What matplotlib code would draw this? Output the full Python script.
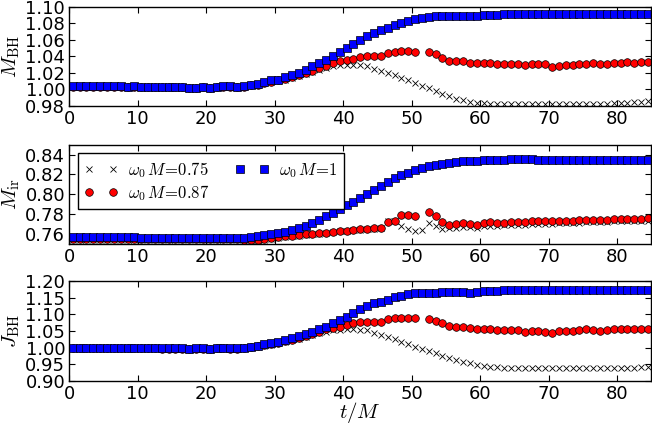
import numpy as np
import matplotlib
matplotlib.use("Agg")
import matplotlib.pyplot as plt

plt.rcParams['mathtext.fontset'] = 'cm'
plt.rcParams['font.family'] = 'DejaVu Sans'
plt.rcParams['xtick.direction'] = 'in'
plt.rcParams['ytick.direction'] = 'in'
plt.rcParams['xtick.top'] = True
plt.rcParams['ytick.right'] = True
plt.rcParams['xtick.major.size'] = 4.5
plt.rcParams['ytick.major.size'] = 4.5
plt.rcParams['axes.linewidth'] = 1.0

# sample times t/M
t = np.arange(0.5, 85, 1.0)
nan = np.nan

# ---- M_BH ----
mbh_075 = [1.003, 1.003, 1.003, 1.003, 1.003, 1.003, 1.003, 1.003, 1.002, 1.003,
           1.002, 1.002, 1.002, 1.002, 1.002, 1.002, 1.002, 1.001, 1.001, 1.002,
           1.001, 1.002, 1.003, 1.003, 1.002, 1.003, 1.005, 1.006, 1.008, 1.009,
           1.010, 1.012, 1.014, 1.016, 1.019, 1.021, 1.024, 1.026, 1.028, 1.0295,
           1.030, 1.030, 1.030, 1.0285, 1.025, 1.023, 1.020, 1.0175, 1.014, 1.0115,
           1.0075, 1.0045, 1.0015, 0.9985, 0.995, 0.992, 0.9885, 0.987, 0.985, 0.984,
           0.9835, 0.983, 0.983, 0.983, 0.983, 0.983, 0.983, 0.983, 0.983, 0.983,
           0.9825, 0.983, 0.983, 0.983, 0.983, 0.983, 0.983, 0.983, 0.983, 0.9835,
           0.984, 0.984, 0.985, 0.985, 0.986]
mbh_087 = [1.0035, 1.0035, 1.0035, 1.0035, 1.0035, 1.0035, 1.0035, 1.0035, 1.0025, 1.0035,
           1.0025, 1.0025, 1.0025, 1.0025, 1.0025, 1.0025, 1.0025, 1.0015, 1.0015, 1.0025,
           1.0015, 1.0025, 1.0035, 1.0035, 1.0025, 1.0035, 1.005, 1.006, 1.008, 1.009,
           1.011, 1.013, 1.015, 1.0175, 1.020, 1.023, 1.026, 1.0285, 1.032, 1.034,
           1.036, 1.037, 1.039, 1.040, 1.040, 1.040, 1.044, 1.045, 1.0465, 1.0465,
           1.046, nan, 1.045, 1.0425, 1.038, 1.0345, 1.034, 1.034, 1.032, 1.032,
           1.032, 1.032, 1.031, 1.031, 1.031, 1.031, 1.030, 1.031, 1.031, 1.031,
           1.027, 1.029, 1.030, 1.030, 1.031, 1.031, 1.032, 1.031, 1.031, 1.032,
           1.032, 1.033, 1.032, 1.033, 1.033]
mbh_1 = [1.004, 1.004, 1.004, 1.004, 1.004, 1.004, 1.004, 1.004, 1.003, 1.004,
         1.003, 1.003, 1.003, 1.003, 1.003, 1.003, 1.003, 1.002, 1.002, 1.003,
         1.002, 1.003, 1.004, 1.004, 1.003, 1.004, 1.005, 1.007, 1.0095, 1.011,
         1.012, 1.015, 1.017, 1.020, 1.024, 1.028, 1.032, 1.036, 1.041, 1.046,
         1.050, 1.055, 1.060, 1.065, 1.068, 1.072, 1.075, 1.078, 1.080, 1.083,
         1.085, 1.087, 1.088, 1.089, 1.089, 1.089, 1.089, 1.089, 1.089, 1.089,
         1.0905, 1.0905, 1.0905, 1.091, 1.0915, 1.092, 1.091, 1.0915, 1.092, 1.092,
         1.092, 1.092, 1.092, 1.092, 1.092, 1.092, 1.0915, 1.0915, 1.0915, 1.0915,
         1.0915, 1.0915, 1.0915, 1.0915, 1.0915]

# ---- M_ir ----
mir_075 = [0.7545, 0.7545, 0.7545, 0.7545, 0.7545, 0.7545, 0.7545, 0.7545, 0.7545, 0.7545,
           0.754, 0.754, 0.754, 0.754, 0.754, 0.754, 0.754, 0.754, 0.754, 0.754,
           0.754, 0.754, 0.754, 0.754, 0.754, 0.7535, 0.754, 0.754, 0.7545, 0.7555,
           0.7565, 0.7575, 0.758, 0.7585, 0.7595, 0.760, 0.7605, 0.761, 0.762, 0.763,
           0.7635, 0.764, 0.7645, 0.765, 0.7655, 0.766, 0.773, 0.7735, 0.768, 0.7655,
           0.763, 0.7645, 0.7715, 0.768, 0.765, 0.766, 0.7665, 0.767, 0.767, 0.7665,
           0.768, 0.7685, 0.7685, 0.769, 0.769, 0.7695, 0.7695, 0.770, 0.770, 0.7705,
           0.7705, 0.771, 0.771, 0.7712, 0.7715, 0.7718, 0.772, 0.7722, 0.7725, 0.7727,
           0.773, 0.773, 0.7732, 0.7733, 0.7735]
mir_087 = [0.7555, 0.7555, 0.7555, 0.7555, 0.7555, 0.7555, 0.7555, 0.7555, 0.7555, 0.7555,
           0.755, 0.755, 0.755, 0.755, 0.755, 0.755, 0.755, 0.755, 0.755, 0.755,
           0.755, 0.755, 0.755, 0.755, 0.755, 0.7545, 0.754, 0.7545, 0.755, 0.756,
           0.757, 0.758, 0.7585, 0.759, 0.760, 0.7605, 0.761, 0.7615, 0.7625, 0.763,
           0.7635, 0.7637, 0.765, 0.7655, 0.766, 0.7665, 0.772, 0.773, 0.7787, 0.7797,
           0.7777, nan, 0.782, 0.7777, 0.7725, 0.7695, 0.770, 0.7707, 0.770, 0.7693,
           0.771, 0.7717, 0.7715, 0.7715, 0.7723, 0.7723, 0.7723, 0.7727, 0.773, 0.773,
           0.773, 0.7732, 0.7733, 0.7735, 0.7737, 0.774, 0.774, 0.7742, 0.7745, 0.7747,
           0.7748, 0.775, 0.7752, 0.7755, 0.7757]
mir_1 = [0.757, 0.757, 0.7575, 0.757, 0.757, 0.757, 0.757, 0.757, 0.757, 0.757,
         0.7565, 0.7565, 0.756, 0.756, 0.756, 0.756, 0.756, 0.756, 0.756, 0.756,
         0.756, 0.756, 0.756, 0.756, 0.756, 0.7565, 0.7574, 0.758, 0.759, 0.760,
         0.761, 0.7625, 0.764, 0.766, 0.768, 0.771, 0.774, 0.778, 0.7815, 0.785,
         0.789, 0.7925, 0.7965, 0.800, 0.804, 0.808, 0.812, 0.816, 0.819, 0.822,
         0.8247, 0.8267, 0.8284, 0.830, 0.831, 0.832, 0.8327, 0.8333, 0.834, 0.834,
         0.8344, 0.8344, 0.8344, 0.8344, 0.8353, 0.8353, 0.8353, 0.8353, 0.8344, 0.8344,
         0.8344, 0.8344, 0.8344, 0.8344, 0.8344, 0.8344, 0.8344, 0.8344, 0.8344, 0.8344,
         0.8344, 0.8344, 0.8344, 0.8344, 0.8344]

# ---- J_BH ----
jbh_075 = [0.998, 0.998, 0.998, 0.998, 0.998, 0.998, 0.998, 0.998, 0.997, 0.998,
           0.998, 0.998, 0.998, 0.996, 0.996, 0.996, 0.996, 0.994, 0.996, 0.996,
           0.994, 0.997, 0.997, 0.996, 0.996, 0.998, 1.001, 1.003, 1.006, 1.009,
           1.013, 1.017, 1.022, 1.027, 1.032, 1.037, 1.043, 1.048, 1.053, 1.053,
           1.055, 1.055, 1.053, 1.053, 1.043, 1.038, 1.033, 1.025, 1.018, 1.011,
           1.003, 0.996, 0.990, 0.983, 0.975, 0.968, 0.963, 0.958, 0.953, 0.948,
           0.945, 0.943, 0.941, 0.940, 0.939, 0.939, 0.938, 0.938, 0.938, 0.938,
           0.938, 0.938, 0.938, 0.938, 0.938, 0.938, 0.938, 0.938, 0.939, 0.939,
           0.939, 0.940, 0.940, 0.941, 0.943]
jbh_087 = [0.999, 0.999, 0.999, 0.999, 0.999, 0.999, 0.999, 0.999, 0.998, 0.999,
           0.999, 0.999, 0.999, 0.997, 0.997, 0.997, 0.997, 0.995, 0.997, 0.997,
           0.995, 0.998, 0.998, 0.997, 0.997, 0.999, 1.002, 1.004, 1.007, 1.011,
           1.015, 1.019, 1.024, 1.029, 1.034, 1.040, 1.048, 1.055, 1.058, 1.063,
           1.068, 1.073, 1.076, 1.076, 1.078, 1.078, 1.085, 1.088, 1.090, 1.090,
           1.088, nan, 1.085, 1.080, 1.073, 1.065, 1.061, 1.061, 1.058, 1.055,
           1.056, 1.055, 1.053, 1.053, 1.053, 1.053, 1.048, 1.050, 1.050, 1.048,
           1.045, 1.050, 1.051, 1.051, 1.053, 1.055, 1.053, 1.051, 1.053, 1.055,
           1.055, 1.055, 1.056, 1.056, 1.056]
jbh_1 = [1.000, 1.000, 1.000, 1.000, 1.000, 1.000, 1.000, 1.000, 0.999, 1.000,
         1.000, 1.000, 1.000, 0.998, 0.998, 0.998, 0.998, 0.996, 0.998, 0.998,
         0.996, 0.999, 0.999, 0.998, 0.998, 0.999, 1.003, 1.005, 1.010, 1.013,
         1.018, 1.023, 1.028, 1.035, 1.041, 1.047, 1.055, 1.063, 1.073, 1.083,
         1.093, 1.103, 1.115, 1.125, 1.133, 1.138, 1.143, 1.151, 1.156, 1.160,
         1.163, 1.165, 1.165, 1.165, 1.166, 1.166, 1.166, 1.166, 1.165, 1.168,
         1.170, 1.170, 1.170, 1.173, 1.173, 1.173, 1.173, 1.173, 1.173, 1.173,
         1.173, 1.173, 1.173, 1.173, 1.173, 1.173, 1.173, 1.173, 1.173, 1.173,
         1.173, 1.173, 1.173, 1.173, 1.173]

labels = [r'$\omega_0\,M\!=\!0.75$', r'$\omega_0\,M\!=\!0.87$', r'$\omega_0\,M\!=\!1$']
ylabels = [r'$M_{\rm BH}$', r'$M_{\rm ir}$', r'$J_{\rm BH}$']
ylims = [(0.98, 1.10), (0.75, 0.85), (0.90, 1.20)]
yticks = [np.arange(0.98, 1.101, 0.02), np.arange(0.76, 0.841, 0.02),
          np.arange(0.90, 1.201, 0.05)]
data = [(mbh_075, mbh_087, mbh_1), (mir_075, mir_087, mir_1), (jbh_075, jbh_087, jbh_1)]

fig = plt.figure(figsize=(6.52, 4.25), dpi=100)
positions = [[0.1063, 0.7506, 0.8927, 0.2330],
             [0.1063, 0.4259, 0.8927, 0.2336],
             [0.1063, 0.1035, 0.8927, 0.2353]]

for k in range(3):
    ax = fig.add_axes(positions[k])
    y075, y087, y1 = data[k]
    ax.plot(t, y075, 'x', color='black', ms=5, mew=0.6, label=labels[0])
    ax.plot(t, y087, 'o', color='red', mec='black', ms=5.5, mew=0.5, label=labels[1])
    ax.plot(t, y1, 's', color='blue', mec='black', ms=5.5, mew=0.5, label=labels[2])
    ax.set_xlim(0, 85)
    ax.set_ylim(*ylims[k])
    ax.set_yticks(yticks[k])
    ax.set_yticklabels(['%.2f' % v for v in yticks[k]])
    ax.set_xticks(np.arange(0, 81, 10))
    ax.tick_params(labelsize=13, pad=3)
    ax.set_ylabel(ylabels[k], fontsize=15, labelpad=2)
    if k == 1:
        leg = ax.legend(loc='upper left', ncol=2, numpoints=2, fontsize=12,
                        fancybox=False, edgecolor='black', framealpha=1,
                        borderaxespad=0.5, handletextpad=0.6, columnspacing=1.6,
                        labelspacing=0.2, borderpad=0.4)
        leg.get_frame().set_linewidth(1.0)
    if k == 2:
        ax.set_xlabel(r'$t/M$', fontsize=15, labelpad=-2)

fig.savefig('out.png', dpi=100)
